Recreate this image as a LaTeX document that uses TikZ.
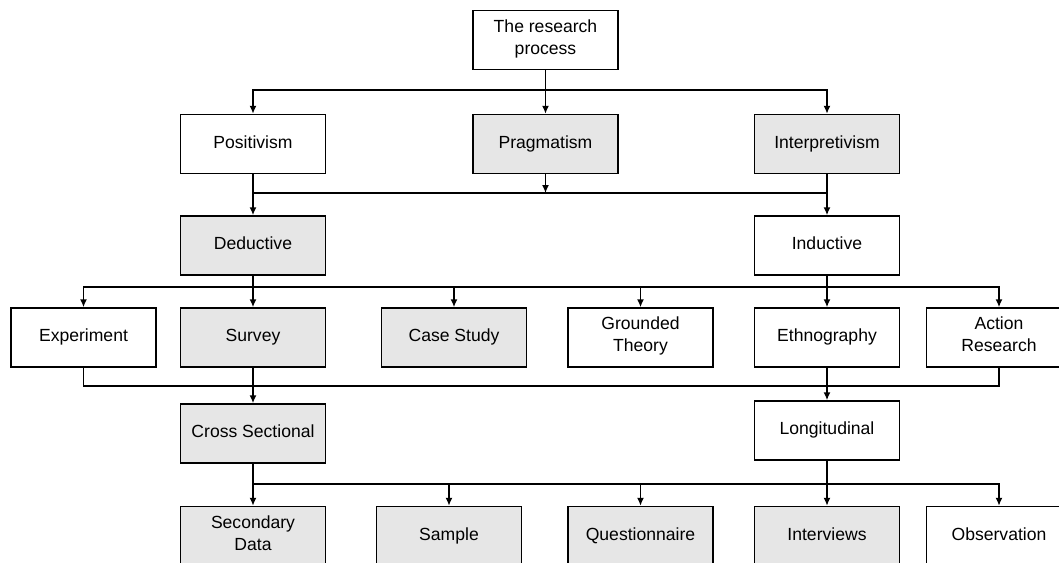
\documentclass[tikz,border=0pt]{standalone}
\usepackage{fontspec}
\setmainfont{Liberation Sans}
\usetikzlibrary{arrows.meta, positioning}
\definecolor{boxgray}{RGB}{230,230,230}

\begin{document}
\begin{tikzpicture}[x=0.02cm, y=-0.02cm, font=\fontsize{10}{12.5}\selectfont,
		box/.style={draw, line width=0.85pt, fill=white, align=center, inner sep=1pt,
		            minimum width=2.9cm, minimum height=1.18cm,
		            execute at begin node=\strut, execute at end node=\strut},
		shaded/.style={box, fill=boxgray},
		link/.style={line width=1.1pt, line cap=rect},
		arr/.style={line width=1.1pt, -{Latex[length=4.5pt, width=4pt]}}]
		\useasboundingbox (0,0) rectangle (1059,562);
		% boxes
		\node[box] (top) at (545.5,40) {The research\\process};
		\node[box] (posi) at (253,144) {Positivism};
		\node[shaded] (prag) at (545.5,144) {Pragmatism};
		\node[shaded] (inter) at (827,144) {Interpretivism};
		\node[shaded] (ded) at (253,245.5) {Deductive};
		\node[box] (ind) at (827,245.5) {Inductive};
		\node[box] (expe) at (83.5,337.5) {Experiment};
		\node[shaded] (surv) at (253,337.5) {Survey};
		\node[shaded] (case) at (454,337.5) {Case Study};
		\node[box] (grou) at (640.5,337.5) {Grounded\\Theory};
		\node[box] (ethn) at (827,337.5) {Ethnography};
		\node[box] (acti) at (999,337.5) {Action\\Research};
		\node[shaded] (cros) at (253,433.5) {Cross Sectional};
		\node[box] (long) at (827,430.5) {Longitudinal};
		\node[shaded] (seco) at (253,536) {Secondary\\Data};
		\node[shaded] (samp) at (449,536) {Sample};
		\node[shaded] (ques) at (640.5,536) {Questionnaire};
		\node[shaded] (intv) at (827,536) {Interviews};
		\node[box] (obse) at (999,536) {Observation};
		% bars
		\coordinate (b1) at (545.5,90);
		\coordinate (b2) at (545.5,193);
		\coordinate (b3) at (545.5,287);
		\coordinate (b4) at (545.5,386);
		\coordinate (b5) at (545.5,484);
		% level 1
		\draw[link] (top.south) -- (b1);
		\draw[link] (posi |- b1) -- (inter |- b1);
		\foreach \n in {posi,prag,inter}
		  \draw[arr] (\n |- b1) -- (\n.north);
		% level 2
		\draw[link] (posi.south) -- (posi |- b2) -- (inter |- b2) -- (inter.south);
		\draw[arr] (prag.south) -- (prag |- b2);
		\foreach \n in {ded,ind}
		  \draw[arr] (\n |- b2) -- (\n.north);
		% level 3
		\foreach \n in {ded,ind}
		  \draw[link] (\n.south) -- (\n |- b3);
		\draw[link] (expe |- b3) -- (acti |- b3);
		\foreach \n in {expe,surv,case,grou,ethn,acti}
		  \draw[arr] (\n |- b3) -- (\n.north);
		% level 4
		\foreach \n in {expe,surv,ethn,acti}
		  \draw[link] (\n.south) -- (\n |- b4);
		\draw[link] (expe |- b4) -- (acti |- b4);
		\foreach \n in {cros,long}
		  \draw[arr] (\n |- b4) -- (\n.north);
		% level 5
		\foreach \n in {cros,long}
		  \draw[link] (\n.south) -- (\n |- b5);
		\draw[link] (cros |- b5) -- (obse |- b5);
		\foreach \n in {seco,samp,ques,intv,obse}
		  \draw[arr] (\n |- b5) -- (\n.north);
	\end{tikzpicture}
\end{document}
